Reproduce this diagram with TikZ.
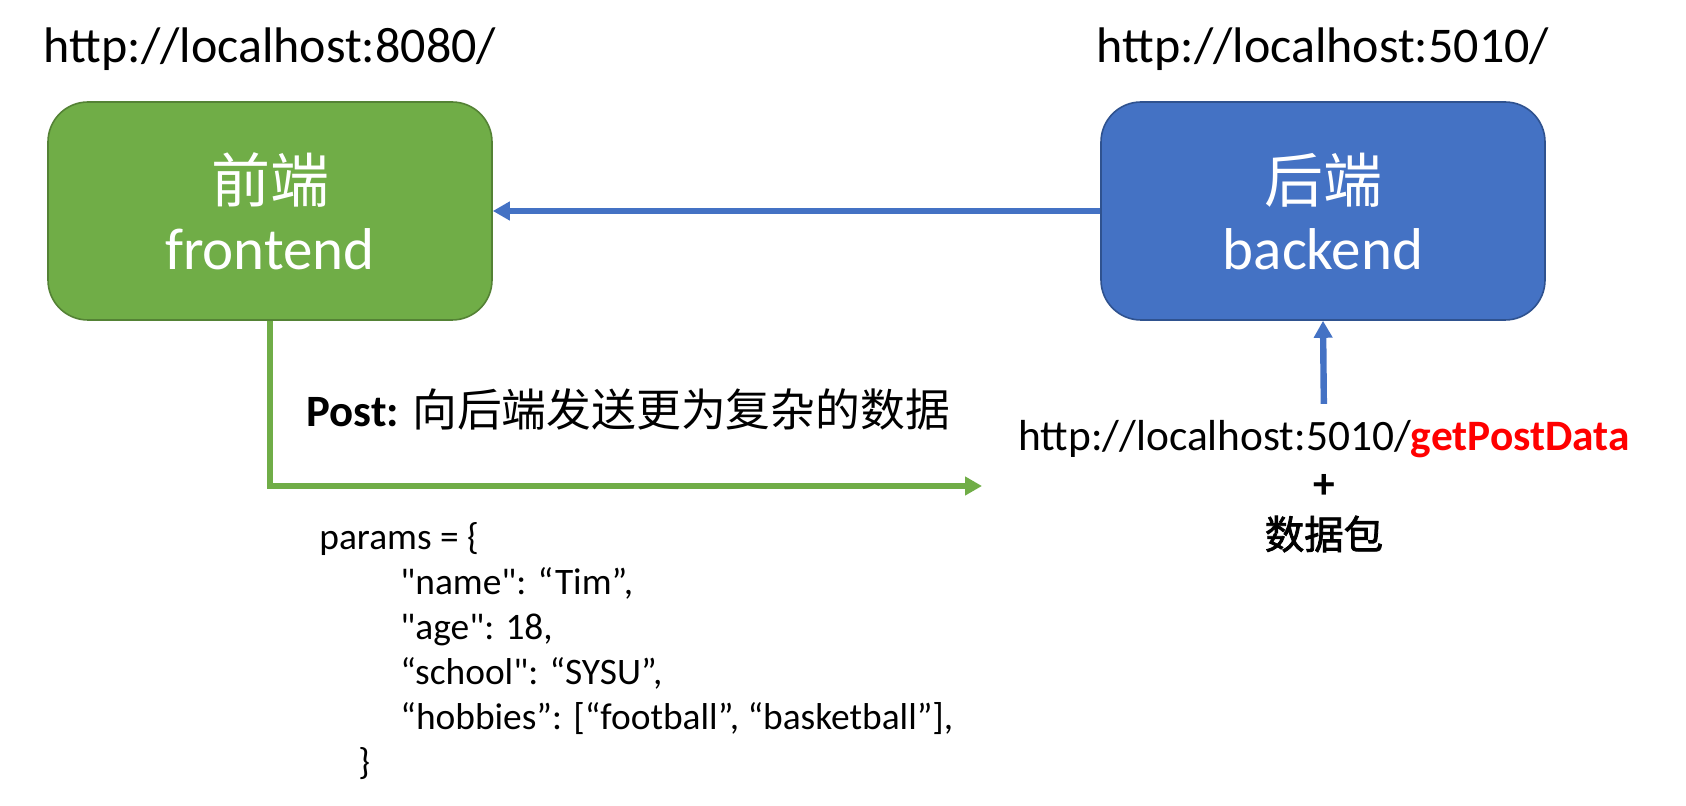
\documentclass[tikz,border=0pt]{standalone}
\usepackage{fontspec}
\setmainfont{Carlito}
\newfontfamily\cjk{Noto Sans CJK SC}[AutoFakeBold=2]
\usetikzlibrary{arrows.meta, positioning}

\definecolor{fegreen}{RGB}{112,173,71}
\definecolor{fegreendark}{RGB}{84,130,53}
\definecolor{beblue}{RGB}{68,114,196}
\definecolor{bebluedark}{RGB}{47,82,143}

\begin{document}
\begin{tikzpicture}[
    x=0.5pt, y=-0.5pt,
    box/.style={draw, rounded corners=20pt, minimum width=222pt, minimum height=109pt, align=center, text=white, line width=0.8pt, font=\fontsize{29.5}{33.5}\selectfont},
    url/.style={inner sep=0pt, font=\fontsize{25}{30}\selectfont},
    link/.style={line width=3.2pt, -{Triangle[length=8.5pt,width=9pt]}}
  ]
    \useasboundingbox (0,0) rectangle (1686,806);

    \node[box, fill=fegreen, draw=fegreendark] (frontend) at (270,211) {{\cjk 前端}\\frontend};
    \node[box, fill=beblue, draw=bebluedark] (backend) at (1323,211) {{\cjk 后端}\\backend};
    \node[url, above=15pt of frontend] (feurl) {http://localhost:8080/};
    \node[url, above=15pt of backend] (beurl) {http://localhost:5010/};

    \node[anchor=west, inner sep=0pt, font=\fontsize{22.4}{26}\selectfont] (post) at (306,409) {\textbf{Post:} {\cjk 向后端发送更为复杂的数据}};
    \coordinate (sendend) at (982,486);

    \node[inner sep=0pt, font=\fontsize{21.7}{26}\selectfont] (posturl) at (1324,439) {http://localhost:5010/\textcolor{red}{\textbf{getPostData}}};
    \node[inner sep=0pt, font=\fontsize{21.7}{26}\selectfont\bfseries] (plus) at (1324,486) {+};
    \node[inner sep=0pt, font=\fontsize{19.7}{24}\selectfont] (pkg) at (1324,534) {{\cjk\bfseries 数据包}};

    \node[anchor=north west, inner sep=0pt, align=left, font=\fontsize{18.7}{22.5}\selectfont] (params) at (319,522) {params = \{\\
      \hspace*{40.5pt}\textquotedbl name\textquotedbl: “Tim”,\\
      \hspace*{40.5pt}\textquotedbl age\textquotedbl: 18,\\
      \hspace*{40.5pt}“school\textquotedbl: “SYSU”,\\
      \hspace*{40.5pt}“hobbies”: [“football”, “basketball”],\\
      \hspace*{19.5pt}\}};

    \draw[link, beblue] (backend.west) -- (frontend.east);
    \draw[link, fegreen] (frontend.south) |- (sendend);
    \draw[link, beblue, shorten <=8pt] (posturl.north) -- (backend.south);
  \end{tikzpicture}
\end{document}
